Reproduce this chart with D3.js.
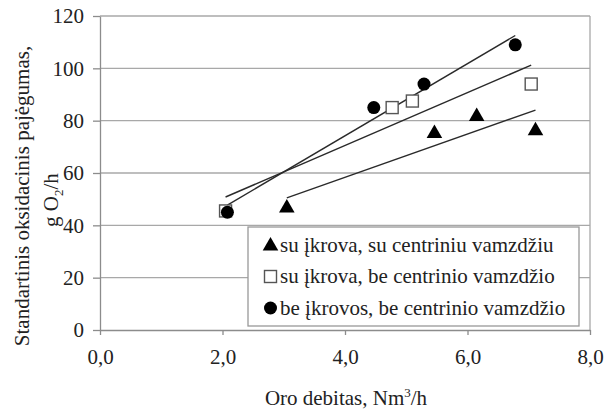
<!DOCTYPE html>
<html><head><meta charset="utf-8">
<script src="https://cdn.jsdelivr.net/npm/d3@7"></script>
<style>
html,body{margin:0;padding:0;background:#fff;}
svg text{font-family:"Liberation Serif","Times New Roman",Times,serif;fill:#222;}
</style></head>
<body>
<svg id="chart" width="613" height="409"></svg>
<script>
// ---- data ----
const seriesNames = ["su įkrova, su centriniu vamzdžiu","su įkrova, be centrinio vamzdžio","be įkrovos, be centrinio vamzdžio"];
const triX = [3.05, 5.46, 6.15, 7.11];
const triY = [47, 75.5, 82, 76.5];
const sqX = [2.05, 4.77, 5.10, 7.04];
const sqY = [45.5, 85, 87.5, 94];
const cirX = [2.08, 4.47, 5.29, 6.78];
const cirY = [45, 85, 94, 109];
const xTicks = [0, 2, 4, 6, 8];
const yTicks = [0, 20, 40, 60, 80, 100, 120];

const FS = 21;
const svg = d3.select("#chart");
const x = d3.scaleLinear().domain([0, 8]).range([100, 590]);
const y = d3.scaleLinear().domain([0, 120]).range([330, 16]);
const gridCol = "#a8a8a8", axisCol = "#8c8c8c";

// gridlines
svg.append("g").selectAll("line").data(yTicks.filter(d => d > 0)).join("line")
  .attr("x1", x(0)).attr("x2", x(8)).attr("y1", d => y(d)).attr("y2", d => y(d))
  .attr("stroke", gridCol).attr("stroke-width", 1.3);
// right border
svg.append("line").attr("x1", x(8)).attr("x2", x(8)).attr("y1", y(120)).attr("y2", y(0))
  .attr("stroke", gridCol).attr("stroke-width", 1.3);

// axes
const fmtX = d => d3.format(".1f")(d).replace(".", ",");
const xAxis = svg.append("g").attr("transform", `translate(0,${y(0)})`)
  .call(d3.axisBottom(x).tickValues(xTicks).tickFormat(fmtX).tickSizeInner(5).tickSizeOuter(0).tickPadding(14));
const yAxis = svg.append("g").attr("transform", `translate(${x(0)},0)`)
  .call(d3.axisLeft(y).tickValues(yTicks).tickSizeInner(7).tickSizeOuter(0).tickPadding(9));
[xAxis, yAxis].forEach(g => {
  g.select(".domain").attr("stroke", axisCol).attr("stroke-width", 1.3);
  g.selectAll(".tick line").attr("stroke", axisCol).attr("stroke-width", 1.3);
  g.selectAll(".tick text").attr("font-size", FS).attr("fill", "#222");
});

// trend lines (least squares from the data)
function fit(xs, ys) {
  const mx = d3.mean(xs), my = d3.mean(ys);
  let sxy = 0, sxx = 0;
  xs.forEach((v, i) => { sxy += (v - mx) * (ys[i] - my); sxx += (v - mx) * (v - mx); });
  const b = sxy / sxx, a = my - b * mx;
  const x0 = d3.min(xs), x1 = d3.max(xs);
  return [[x0, a + b * x0], [x1, a + b * x1]];
}
const trendG = svg.append("g");
[[triX, triY], [sqX, sqY], [cirX, cirY]].forEach(([xs, ys]) => {
  const seg = fit(xs, ys);
  trendG.append("line")
    .attr("x1", x(seg[0][0])).attr("y1", y(seg[0][1]))
    .attr("x2", x(seg[1][0])).attr("y2", y(seg[1][1]))
    .attr("stroke", "#2a2a2a").attr("stroke-width", 1.4);
});

// markers
const triSym = d3.symbol().type(d3.symbolTriangle).size(105);
function drawTri(g, cx, cy) {
  g.append("path").attr("d", triSym()).attr("transform", `translate(${cx},${cy + 1})`).attr("fill", "#000");
}
function drawSq(g, cx, cy) {
  g.append("rect").attr("x", cx - 6).attr("y", cy - 6).attr("width", 12).attr("height", 12)
    .attr("fill", "#fff").attr("stroke", "#555").attr("stroke-width", 1.4);
}
function drawCir(g, cx, cy) {
  g.append("circle").attr("cx", cx).attr("cy", cy).attr("r", 6.5).attr("fill", "#000");
}
const mk = svg.append("g");
sqX.forEach((v, i) => drawSq(mk, x(v), y(sqY[i])));
cirX.forEach((v, i) => drawCir(mk, x(v), y(cirY[i])));
triX.forEach((v, i) => drawTri(mk, x(v), y(triY[i])));

// legend
const lg = svg.append("g");
lg.append("rect").attr("x", 248).attr("y", 227).attr("width", 331).attr("height", 99)
  .attr("fill", "#fff").attr("stroke", "#999").attr("stroke-width", 1.3);
const drawers = [drawTri, drawSq, drawCir];
seriesNames.forEach((name, i) => {
  const cy = 245 + i * 31.5;
  drawers[i](lg, 270.5, cy);
  lg.append("text").attr("x", 280).attr("y", cy + 6.5).attr("font-size", FS).text(name);
});

// axis titles
const xt = svg.append("text").attr("x", 346).attr("y", 405).attr("text-anchor", "middle").attr("font-size", FS);
xt.append("tspan").text("Oro debitas, Nm");
xt.append("tspan").attr("font-size", 13).attr("dy", -8).text("3");
xt.append("tspan").attr("dy", 8).text("/h");

svg.append("text").attr("transform", "translate(29,196) rotate(-90)").attr("text-anchor", "middle")
  .attr("font-size", FS).text("Standartinis oksidacinis pajėgumas,");
const yt2 = svg.append("text").attr("transform", "translate(58,200) rotate(-90)").attr("text-anchor", "middle").attr("font-size", FS);
yt2.append("tspan").text("g O");
yt2.append("tspan").attr("font-size", 13).attr("dy", 5).text("2");
yt2.append("tspan").attr("dy", -5).text("/h");
</script>
</body></html>
